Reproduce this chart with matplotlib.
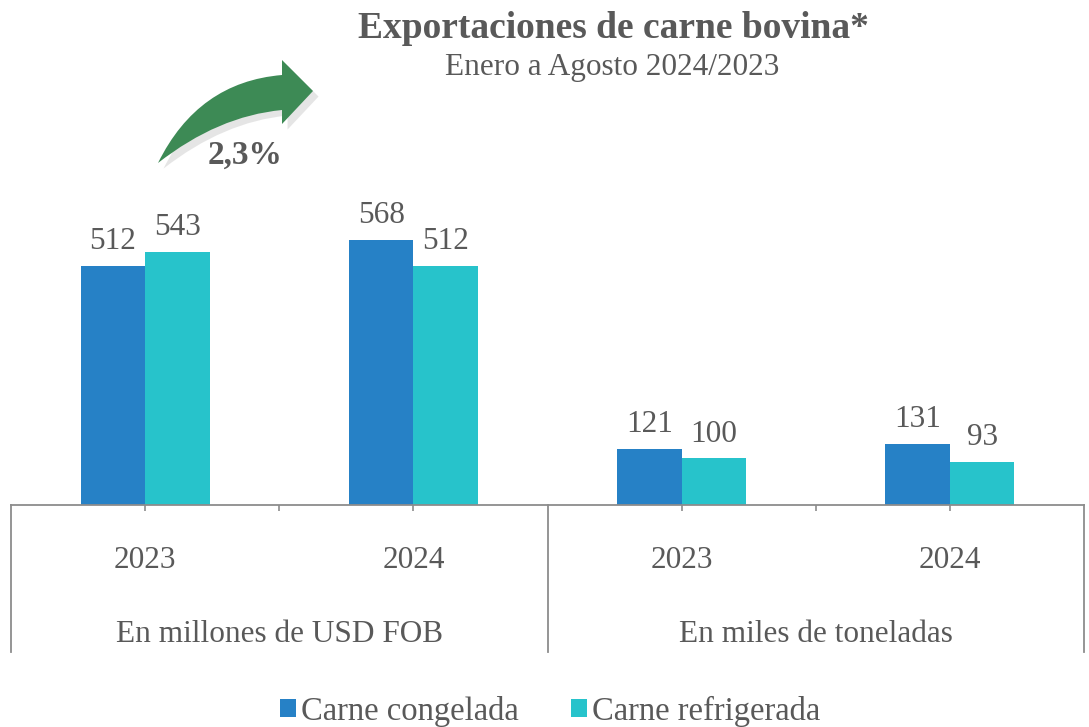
import numpy as np
import matplotlib
matplotlib.use("Agg")
import matplotlib.pyplot as plt
import matplotlib.patheffects as pe
from matplotlib.patches import PathPatch
from matplotlib.path import Path
import matplotlib.transforms as mtransforms

plt.rcParams['font.family'] = ['Liberation Serif', 'DejaVu Serif']

years = ['2023', '2024', '2023', '2024']
groups = ['En millones de USD FOB', 'En miles de toneladas']
congelada = [512, 568, 121, 131]
refrigerada = [543, 512, 100, 93]
series_names = ['Carne congelada', 'Carne refrigerada']
growth_label = '2,3%'

blue = '#2681C6'
teal = '#27C3CB'
grey_txt = '#595959'
line_col = '#8C8C8C'

W, H = 1089, 727
fig = plt.figure(figsize=(W / 100, H / 100), dpi=100)
ax = fig.add_axes([11 / W, 1 - 505 / H, 1073 / W, 326.7 / H])

x = np.arange(len(years))
bw = 0.24
b1 = ax.bar(x - bw / 2, congelada, bw, color=blue, label=series_names[0])
b2 = ax.bar(x + bw / 2, refrigerada, bw, color=teal, label=series_names[1])

for bars, vals in [(b1, congelada), (b2, refrigerada)]:
    for r, v in zip(bars, vals):
        ax.annotate(str(v), (r.get_x() + r.get_width() / 2, v), xytext=(0, 7),
                    textcoords='offset points', ha='center', va='bottom',
                    fontsize=22.5, color=grey_txt)

ax.set_xlim(-0.5, 3.5)
ax.set_ylim(0, 700)
for s in ['top', 'right', 'left']:
    ax.spines[s].set_visible(False)
ax.spines['bottom'].set_color(line_col)
ax.spines['bottom'].set_linewidth(1.3)
ax.set_yticks([])
ax.set_xticks([0, 0.5, 1, 2, 2.5, 3])
ax.set_xticklabels([])
ax.tick_params(axis='x', length=4, width=1.2, color=line_col)

trans = mtransforms.blended_transform_factory(ax.transData, ax.transAxes)
for xs in [-0.5, 1.5, 3.5]:
    ax.plot([xs, xs], [0, -147 / 326.7], transform=trans, color=line_col,
            lw=1.3, clip_on=False)
for xi, yr in zip(x, years):
    ax.text(xi, -55 / 326.7, yr, transform=trans, ha='center', va='center',
            fontsize=22.5, color=grey_txt)
for gi, g in enumerate(groups):
    ax.text(0.5 + 2 * gi, -130 / 326.7, g, transform=trans, ha='center',
            va='center', fontsize=22.5, color=grey_txt)

fig.text(613 / W, 1 - 28 / H, 'Exportaciones de carne bovina*', ha='center',
         va='center', fontsize=27, fontweight='bold', color=grey_txt)
fig.text(612 / W, 1 - 68 / H, 'Enero a Agosto 2024/2023', ha='center',
         va='center', fontsize=22.5, color=grey_txt)

# curved growth arrow, outline in pixel coords (y from top)
pts = [(158, 163), (198, 82), (282, 75), (282, 60), (313, 91),
       (282, 124), (282, 110), (218, 116), (158, 163)]
codes = [Path.MOVETO, Path.CURVE3, Path.CURVE3, Path.LINETO, Path.LINETO,
         Path.LINETO, Path.LINETO, Path.CURVE3, Path.CURVE3]
verts = [(px / W, 1 - py / H) for px, py in pts]
arrow = PathPatch(Path(verts, codes), transform=fig.transFigure,
                  facecolor='#3D8A55', edgecolor='none')
arrow.set_path_effects([pe.SimplePatchShadow(offset=(4, -4), shadow_rgbFace='#9A9A9A', alpha=0.25),
                        pe.Normal()])
fig.add_artist(arrow)
fig.text(245 / W, 1 - 155 / H, growth_label, ha='center', va='center',
         fontsize=24, fontweight='bold', color=grey_txt)

fig.legend(handles=[b1, b2], loc='center', bbox_to_anchor=(550 / W, 1 - 711 / H),
           ncol=2, frameon=False, fontsize=23.5, labelcolor=grey_txt,
           handlelength=0.5, handleheight=0.5, handletextpad=0.15,
           columnspacing=1.6)

fig.savefig('out.png', dpi=100)
